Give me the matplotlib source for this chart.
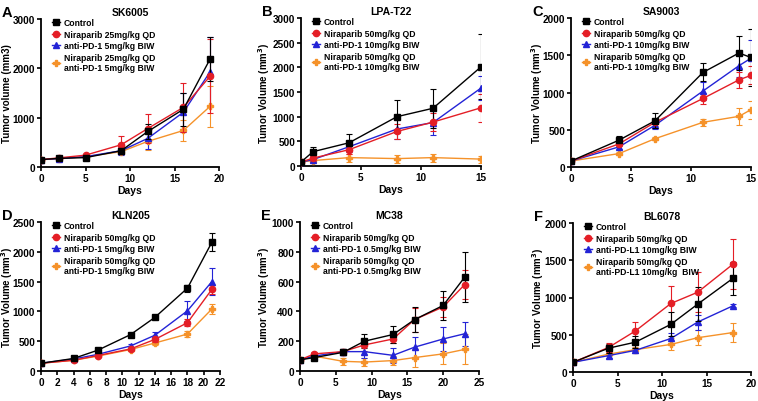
import matplotlib
matplotlib.use("Agg")
import matplotlib.pyplot as plt
from matplotlib.lines import Line2D

plt.rcParams['font.family'] = ['Liberation Sans', 'DejaVu Sans']
plt.rcParams['font.weight'] = 'bold'

# ---------------- data ----------------
# A: SK6005
a_days = [0, 2, 5, 9, 12, 16, 19]
a_ctrl = [150, 175, 190, 330, 720, 1170, 2190]
a_ctrl_err = [20, 20, 20, 50, 150, 330, 450]
a_nira = [150, 185, 240, 450, 780, 1210, 1840]
a_nira_err = [20, 20, 30, 180, 300, 500, 750]
a_pd1 = [150, 170, 210, 330, 580, 1110, 1930]
a_pd1_err = [20, 20, 20, 80, 220, 400, 700]
a_combo = [150, 165, 210, 310, 520, 740, 1230]
a_combo_err = [20, 20, 30, 50, 170, 220, 410]
a_labels = ["Control", "Niraparib 25mg/kg QD", "anti-PD-1 5mg/kg BIW",
            "Niraparib 25mg/kg QD\nanti-PD-1 5mg/kg BIW"]

# B: LPA-T22
b_days = [0, 1, 4, 8, 11, 15]
b_ctrl = [80, 290, 470, 1000, 1170, 2010]
b_ctrl_err = [30, 100, 170, 330, 400, 660]
b_nira = [80, 160, 330, 700, 890, 1180]
b_nira_err = [20, 50, 80, 150, 180, 280]
b_pd1 = [80, 130, 390, 750, 880, 1580]
b_pd1_err = [20, 40, 100, 200, 250, 250]
b_combo = [80, 110, 170, 150, 170, 140]
b_combo_err = [20, 40, 80, 80, 80, 70]
b_labels = ["Control", "Niraparib 50mg/kg QD", "anti-PD-1 10mg/kg BIW",
            "Niraparib 50mg/kg QD\nanti-PD-1 10mg/kg BIW"]

# C: SA9003
c_days = [0, 4, 7, 11, 14, 15]
c_ctrl = [80, 360, 620, 1270, 1530, 1470]
c_ctrl_err = [20, 50, 100, 120, 230, 380]
c_nira = [80, 310, 600, 920, 1170, 1230]
c_nira_err = [20, 30, 50, 80, 110, 120]
c_pd1 = [80, 270, 560, 1020, 1360, 1460]
c_pd1_err = [15, 30, 50, 120, 150, 250]
c_combo = [80, 180, 380, 600, 680, 770]
c_combo_err = [10, 20, 20, 50, 110, 120]
c_labels = ["Control", "Niraparib 50mg/kg QD", "anti-PD-1 10mg/kg BIW",
            "Niraparib 50mg/kg QD\nanti-PD-1 10mg/kg BIW"]

# D: KLN205
d_days = [0, 4, 7, 11, 14, 18, 21]
d_ctrl = [130, 210, 350, 610, 900, 1390, 2160]
d_ctrl_err = [10, 20, 20, 20, 30, 60, 150]
d_nira = [130, 180, 260, 370, 530, 810, 1370]
d_nira_err = [10, 10, 15, 20, 40, 60, 80]
d_pd1 = [130, 200, 280, 420, 600, 1010, 1500]
d_pd1_err = [10, 15, 20, 30, 50, 170, 220]
d_combo = [130, 180, 250, 360, 470, 620, 1040]
d_combo_err = [10, 10, 15, 20, 30, 50, 90]
d_labels = ["Control", "Niraparib 50mg/kg QD", "anti-PD-1 5mg/kg BIW",
            "Niraparib 50mg/kg QD\nanti-PD-1 5mg/kg BIW"]

# E: MC38
e_days = [0, 2, 6, 9, 13, 16, 20, 23]
e_ctrl = [75, 90, 125, 200, 245, 345, 440, 630]
e_ctrl_err = [10, 10, 20, 45, 55, 85, 100, 170]
e_nira = [75, 115, 130, 175, 215, 345, 430, 580]
e_nira_err = [10, 10, 15, 40, 30, 80, 65, 100]
e_pd1 = [75, 100, 130, 130, 105, 160, 215, 250]
e_pd1_err = [10, 10, 20, 40, 50, 70, 80, 80]
e_combo = [75, 100, 65, 60, 70, 90, 115, 145]
e_combo_err = [10, 10, 25, 25, 30, 60, 70, 100]
e_labels = ["Control", "Niraparib 50mg/kg QD", "anti-PD-1 0.5mg/kg BIW",
            "Niraparib 50mg/kg QD\nanti-PD-1 0.5mg/kg BIW"]

# F: BL6078
f_days = [0, 4, 7, 11, 14, 18]
f_ctrl = [130, 320, 400, 640, 910, 1260]
f_ctrl_err = [20, 60, 80, 160, 230, 220]
f_nira = [130, 330, 550, 920, 1070, 1450]
f_nira_err = [20, 60, 120, 240, 270, 340]
f_pd1 = [130, 220, 290, 450, 670, 890]
f_pd1_err = [10, 30, 30, 80, 100, 20]
f_combo = [130, 240, 300, 370, 460, 530]
f_combo_err = [10, 30, 40, 80, 100, 130]
f_labels = ["Control", "Niraparib 50mg/kg QD", "anti-PD-L1 10mg/kg BIW",
            "Niraparib 50mg/kg QD\nanti-PD-L1 10mg/kg  BIW"]

colors = ['#000000', '#E41E26', '#2323D6', '#F5922A']
markers = ['s', 'o', '^', 'P']
msizes = [5, 4.5, 4.5, 4]

W, H = 758, 402
fig = plt.figure(figsize=(W / 100, H / 100), dpi=100)

def ax_at(x0, y0, x1, y1):
    return fig.add_axes([x0 / W, 1 - y1 / H, (x1 - x0) / W, (y1 - y0) / H])

VL = 'Tumor Volume (mm$\\mathbf{^3}$)'
panels = [
    dict(box=(41, 20, 219, 168), letter='A', title='SK6005', days=a_days,
         series=[(a_ctrl, a_ctrl_err), (a_nira, a_nira_err), (a_pd1, a_pd1_err), (a_combo, a_combo_err)],
         labels=a_labels, ylim=(0, 3000), yticks=[0, 1000, 2000, 3000], xlim=(0, 20),
         xticks=[0, 5, 10, 15, 20], ylabel='Tumor volume (mm3)', ylx=7.5),
    dict(box=(301, 19, 481, 167), letter='B', title='LPA-T22', days=b_days,
         series=[(b_ctrl, b_ctrl_err), (b_nira, b_nira_err), (b_pd1, b_pd1_err), (b_combo, b_combo_err)],
         labels=b_labels, ylim=(0, 3000), yticks=[0, 500, 1000, 1500, 2000, 2500, 3000], xlim=(0, 15),
         xticks=[0, 5, 10, 15], ylabel=VL, ylx=264),
    dict(box=(571, 19, 751, 168), letter='C', title='SA9003', days=c_days,
         series=[(c_ctrl, c_ctrl_err), (c_nira, c_nira_err), (c_pd1, c_pd1_err), (c_combo, c_combo_err)],
         labels=c_labels, ylim=(0, 2000), yticks=[0, 500, 1000, 1500, 2000], xlim=(0, 15),
         xticks=[0, 5, 10, 15], ylabel=VL, ylx=537),
    dict(box=(41, 223, 220, 372), letter='D', title='KLN205', days=d_days,
         series=[(d_ctrl, d_ctrl_err), (d_nira, d_nira_err), (d_pd1, d_pd1_err), (d_combo, d_combo_err)],
         labels=d_labels, ylim=(0, 2500), yticks=[0, 500, 1000, 1500, 2000, 2500], xlim=(0, 22),
         xticks=list(range(0, 23, 2)), ylabel=VL, ylx=7.0),
    dict(box=(300, 223, 479, 372), letter='E', title='MC38', days=e_days,
         series=[(e_ctrl, e_ctrl_err), (e_nira, e_nira_err), (e_pd1, e_pd1_err), (e_combo, e_combo_err)],
         labels=e_labels, ylim=(0, 1000), yticks=[0, 200, 400, 600, 800, 1000], xlim=(0, 25),
         xticks=[0, 5, 10, 15, 20, 25], ylabel=VL, ylx=264),
    dict(box=(573, 224, 751, 373), letter='F', title='BL6078', days=f_days,
         series=[(f_ctrl, f_ctrl_err), (f_nira, f_nira_err), (f_pd1, f_pd1_err), (f_combo, f_combo_err)],
         labels=f_labels, ylim=(0, 2000), yticks=[0, 500, 1000, 1500, 2000], xlim=(0, 20),
         xticks=[0, 5, 10, 15, 20], ylabel=VL, ylx=538),
]

for p in panels:
    ax = ax_at(*p['box'])
    handles = []
    for i, (vals, errs) in enumerate(p['series']):
        ax.errorbar(p['days'], vals, yerr=errs, color=colors[i], ecolor=colors[i],
                    elinewidth=0.8, capsize=2, capthick=0.8, lw=1.0,
                    marker=markers[i], ms=msizes[i], zorder=3 + (3 - i) * 0.1)
        handles.append(Line2D([], [], color=colors[i], marker=markers[i], ms=msizes[i], lw=1.0))
    ax.set_xlim(*p['xlim'])
    ax.set_ylim(*p['ylim'])
    ax.set_xticks(p['xticks'])
    ax.set_yticks(p['yticks'])
    for s in ['top', 'right']:
        ax.spines[s].set_visible(False)
    for s in ['left', 'bottom']:
        ax.spines[s].set_linewidth(1.3)
    ax.tick_params(labelsize=7.2, width=1.2, length=3, pad=1.2)
    for lab in ax.get_xticklabels() + ax.get_yticklabels():
        lab.set_fontweight('bold')
    ax.set_xlabel('Days', fontsize=7.5, fontweight='bold', labelpad=1.5)
    ax.set_ylabel(p['ylabel'], fontsize=7.0, fontweight='bold', va='center')
    x0, y0, x1, y1 = p['box']
    ax.yaxis.set_label_coords((p['ylx'] - x0) / (x1 - x0), 0.5)
    ax.set_title(p['title'], fontsize=7.5, fontweight='bold', pad=3)
    leg = ax.legend(handles, p['labels'], loc='upper left', bbox_to_anchor=(0.03, 1.04),
                    frameon=False, fontsize=6.2, handlelength=1.0, handletextpad=0.4,
                    labelspacing=0.3, borderaxespad=0.2)
    for t in leg.get_texts():
        t.set_fontweight('bold')
    fig.text((x0 - 39) / W, 1 - (y0 - 14) / H, p['letter'], fontsize=10.5,
             fontweight='bold', ha='left', va='top')

fig.savefig('out.png', dpi=100)
